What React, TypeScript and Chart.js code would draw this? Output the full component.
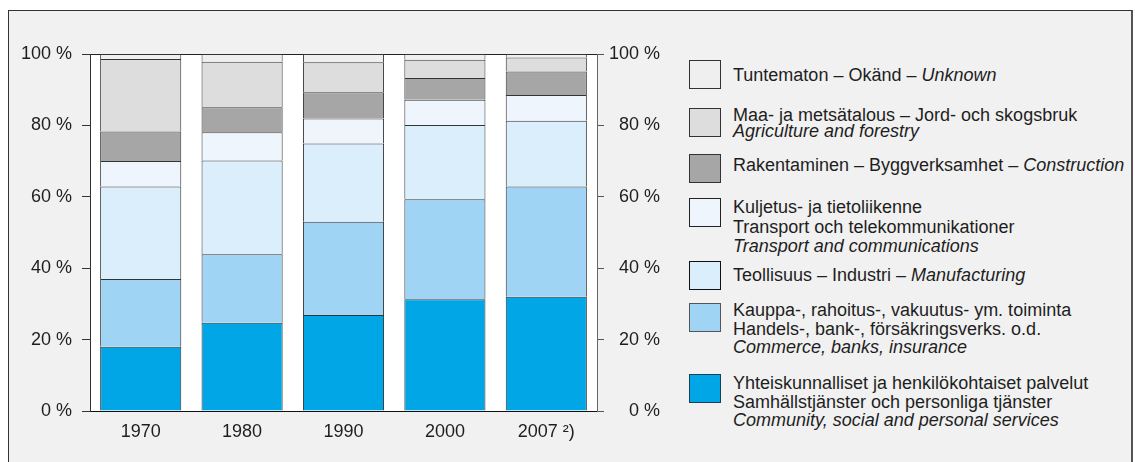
import React, { useEffect, useRef } from "react";
import { Chart, registerables } from "chart.js";

Chart.register(...registerables);

// ---------- data ----------
const categories = ["1970", "1980", "1990", "2000", "2007 ²)"];
const community = [18.0, 24.7, 26.9, 31.3, 32.0];
const commerce = [19.0, 19.2, 26.1, 28.0, 30.9];
const manufacturing = [25.9, 26.3, 21.9, 20.8, 18.4];
const transport = [7.1, 7.9, 7.0, 7.1, 7.2];
const construction = [8.3, 7.0, 7.4, 6.1, 6.6];
const agriculture = [20.3, 12.7, 8.4, 5.1, 3.9];
const unknown = [1.4, 2.2, 2.3, 1.6, 1.0];
const yTickValues = [0, 20, 40, 60, 80, 100];

// legend text (top to bottom); each line is a list of [text, italic]
const legendUnknown = [[["Tuntematon – Okänd – ", false], ["Unknown", true]]];
const legendAgriculture = [
  [["Maa- ja metsätalous – Jord- och skogsbruk", false]],
  [["Agriculture and forestry", true]],
];
const legendConstruction = [[["Rakentaminen – Byggverksamhet – ", false], ["Construction", true]]];
const legendTransport = [
  [["Kuljetus- ja tietoliikenne", false]],
  [["Transport och telekommunikationer", false]],
  [["Transport and communications", true]],
];
const legendManufacturing = [[["Teollisuus – Industri – ", false], ["Manufacturing", true]]];
const legendCommerce = [
  [["Kauppa-, rahoitus-, vakuutus- ym. toiminta", false]],
  [["Handels-, bank-, försäkringsverks. o.d.", false]],
  [["Commerce, banks, insurance", true]],
];
const legendCommunity = [
  [["Yhteiskunnalliset ja henkilökohtaiset palvelut", false]],
  [["Samhällstjänster och personliga tjänster", false]],
  [["Community, social and personal services", true]],
];

// ---------- styles ----------
const FONT = "'Liberation Sans', Arial, sans-serif";
const TEXT = "#1e1e1e";
const COLORS = {
  community: "#00a6e6",
  commerce: "#a0d4f4",
  manufacturing: "#dbeefb",
  transport: "#eef5fc",
  construction: "#a6a6a6",
  agriculture: "#dddddd",
  unknown: "#efefef",
};

const legendItems = [
  { lines: legendUnknown, color: COLORS.unknown, border: "#333", top: 60, baselines: [81] },
  { lines: legendAgriculture, color: COLORS.agriculture, border: "#333", top: 107.7, baselines: [121, 136.7] },
  { lines: legendConstruction, color: COLORS.construction, border: "#333", top: 154.3, baselines: [171] },
  { lines: legendTransport, color: COLORS.transport, border: "#222", top: 198.3, baselines: [213.3, 233, 251.7] },
  { lines: legendManufacturing, color: COLORS.manufacturing, border: "#111", top: 261, baselines: [280.7] },
  { lines: legendCommerce, color: COLORS.commerce, border: "#555", top: 302.7, baselines: [316, 335, 353.3] },
  { lines: legendCommunity, color: COLORS.community, border: "#1d3f55", top: 374.3, baselines: [389, 408.3, 426] },
];

const chartBg = {
  id: "chartBg",
  beforeDraw(chart: any) {
    const { ctx, chartArea: a } = chart;
    ctx.save();
    ctx.fillStyle = "#ffffff";
    ctx.fillRect(a.left, a.top, a.right - a.left, a.bottom - a.top);
    ctx.restore();
  },
};

export default function App() {
  const ref = useRef<HTMLCanvasElement>(null);

  useEffect(() => {
    if (!ref.current) return;
    const mk = (label: string, data: number[], color: string) => ({
      label,
      data,
      backgroundColor: color,
      borderColor: "#333333",
      borderWidth: 1,
      barPercentage: 0.8,
      categoryPercentage: 1.0,
      yAxisID: "y",
    });
    const tickFont = { family: FONT, size: 18 };
    const chart = new Chart(ref.current, {
      type: "bar",
      data: {
        labels: categories,
        datasets: [
          mk("Community, social and personal services", community, COLORS.community),
          mk("Commerce, banks, insurance", commerce, COLORS.commerce),
          mk("Manufacturing", manufacturing, COLORS.manufacturing),
          mk("Transport and communications", transport, COLORS.transport),
          mk("Construction", construction, COLORS.construction),
          mk("Agriculture and forestry", agriculture, COLORS.agriculture),
          mk("Unknown", unknown, COLORS.unknown),
        ],
      },
      options: {
        responsive: false,
        animation: false,
        layout: { padding: { top: 54, left: 0, right: 0, bottom: 0 } },
        plugins: { legend: { display: false }, tooltip: { enabled: false } },
        scales: {
          x: {
            stacked: true,
            grid: { display: false, drawTicks: false },
            border: { display: true, color: "#111111", width: 1 },
            ticks: { padding: 10, color: TEXT, font: tickFont, maxRotation: 0 },
            afterFit: (s: any) => {
              s.height = 51;
            },
          },
          y: {
            stacked: true,
            position: "left",
            min: 0,
            max: 100,
            afterBuildTicks: (s: any) => {
              s.ticks = yTickValues.map((v) => ({ value: v }));
            },
            ticks: {
              padding: 10,
              color: TEXT,
              font: tickFont,
              callback: (v: any) => v + " %",
            },
            grid: {
              drawOnChartArea: true,
              drawTicks: true,
              tickLength: 8,
              tickColor: "#333333",
              color: (c: any) => (c.tick && c.tick.value === 100 ? "#222222" : "rgba(0,0,0,0)"),
            },
            border: { display: true, color: "#333333" },
            afterFit: (s: any) => {
              s.width = 90;
            },
          },
          y2: {
            position: "right",
            min: 0,
            max: 100,
            afterBuildTicks: (s: any) => {
              s.ticks = yTickValues.map((v) => ({ value: v }));
            },
            ticks: {
              padding: 8,
              crossAlign: "far",
              color: TEXT,
              font: tickFont,
              callback: (v: any) => v + " %",
            },
            grid: { drawOnChartArea: false, drawTicks: true, tickLength: 7, tickColor: "#555555" },
            border: { display: true, color: "#666666" },
            afterFit: (s: any) => {
              s.width = 63;
            },
          },
        },
      } as any,
      plugins: [chartBg],
    });
    return () => chart.destroy();
  }, []);

  return (
    <div
      style={{
        position: "absolute",
        left: 0,
        top: 0,
        width: 1135,
        height: 462,
        overflow: "hidden",
        background: "#ffffff",
        fontFamily: FONT,
      }}
    >
      <div
        style={{
          position: "absolute",
          left: 8,
          top: 10,
          width: 1125,
          height: 480,
          boxSizing: "border-box",
          border: "1px solid #333",
          borderRight: "2px solid #555",
          background: "#f1f1f1",
        }}
      />
      <canvas
        ref={ref}
        width={660}
        height={462}
        style={{ position: "absolute", left: 0, top: 0, width: 660, height: 462 }}
      />
      {legendItems.map((item, i) => (
        <React.Fragment key={i}>
          <div
            style={{
              position: "absolute",
              left: 689,
              top: item.top,
              width: 32,
              height: 29,
              boxSizing: "border-box",
              border: `1.5px solid ${item.border}`,
              background: item.color,
            }}
          />
          {item.lines.map((line: any, j: number) => (
            <div
              key={j}
              style={{
                position: "absolute",
                left: 733,
                top: item.baselines[j] - 16.2,
                fontSize: 18,
                lineHeight: "20px",
                color: TEXT,
                whiteSpace: "nowrap",
              }}
            >
              {line.map((seg: any, k: number) => (
                <span key={k} style={{ fontStyle: seg[1] ? "italic" : "normal" }}>
                  {seg[0]}
                </span>
              ))}
            </div>
          ))}
        </React.Fragment>
      ))}
    </div>
  );
}
